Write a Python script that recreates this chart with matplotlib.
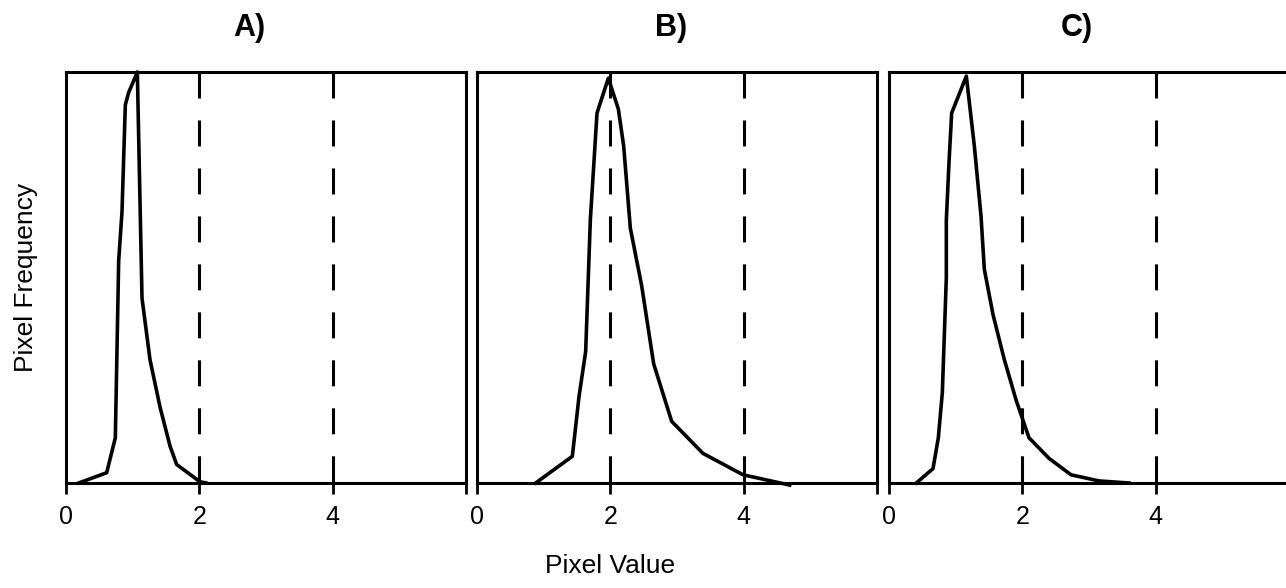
import matplotlib
matplotlib.use("Agg")
import matplotlib.pyplot as plt

# ---- data ----
panel_titles = ["A)", "B)", "C)"]
tick_values = [0, 2, 4, 6]
tick_labels = ["0", "2", "4", ""]
threshold_lines = [2, 4]

a_x = [0.19, 0.61, 0.74, 0.79, 0.84, 0.89, 0.94, 1.07, 1.14, 1.26, 1.41, 1.56, 1.66, 2.01, 2.10]
a_y = [0.0, 0.025, 0.11, 0.54, 0.66, 0.92, 0.95, 1.0, 0.45, 0.30, 0.185, 0.09, 0.045, 0.003, 0.0]

b_x = [0.88, 1.43, 1.53, 1.63, 1.70, 1.80, 1.97, 2.12, 2.20, 2.30, 2.47, 2.65, 2.92, 3.39, 3.99, 4.69]
b_y = [0.0, 0.065, 0.21, 0.32, 0.64, 0.90, 0.985, 0.91, 0.82, 0.62, 0.48, 0.29, 0.15, 0.072, 0.02, -0.005]

c_x = [0.41, 0.66, 0.74, 0.80, 0.86, 0.86, 0.90, 0.94, 1.16, 1.28, 1.38, 1.43, 1.56, 1.73, 1.91, 2.10, 2.40, 2.73, 3.15, 3.60]
c_y = [0.0, 0.035, 0.11, 0.22, 0.50, 0.64, 0.78, 0.90, 0.99, 0.82, 0.65, 0.52, 0.41, 0.30, 0.20, 0.11, 0.06, 0.02, 0.005, 0.0]

curves = [(a_x, a_y), (b_x, b_y), (c_x, c_y)]

# ---- layout ----
W, H = 1286, 588
fig = plt.figure(figsize=(W / 100, H / 100), dpi=100)
plt.rcParams["font.family"] = ["Liberation Sans", "DejaVu Sans"]

lefts_px = [66, 477, 889]
width_px = 400
top_px, bottom_px = 72, 483
title_x_px = [249, 671, 1077]

for i, (left, (xs, ys)) in enumerate(zip(lefts_px, curves)):
    ax = fig.add_axes([left / W, 1 - bottom_px / H, width_px / W, (bottom_px - top_px) / H])
    ax.set_xlim(0, 6)
    ax.set_ylim(0, 1.0)
    for t in threshold_lines:
        ax.plot([t, t], [1.0, 0.0], color="black", lw=2.2, dashes=(8.5, 7.2),
                solid_capstyle="butt", dash_capstyle="butt", clip_on=False)
    ax.plot(xs, ys, color="black", lw=2.6, solid_joinstyle="round", clip_on=False)
    for s in ax.spines.values():
        s.set_linewidth(2.2)
        s.set_color("black")
    ax.set_xticks(tick_values)
    ax.set_xticklabels(tick_labels)
    ax.set_yticks([])
    ax.tick_params(axis="x", direction="out", length=8, width=2.0, pad=8,
                   labelsize=18, colors="black")
    fig.text(title_x_px[i] / W, 1 - 28 / H, panel_titles[i], ha="center", va="center",
             fontsize=22, fontweight="bold")

fig.text(610 / W, 1 - 566 / H, "Pixel Value", ha="center", va="center", fontsize=19)
fig.text(26 / W, 1 - 277 / H, "Pixel Frequency", ha="center", va="center",
         rotation=90, fontsize=19)

fig.savefig("out.png", dpi=100)
